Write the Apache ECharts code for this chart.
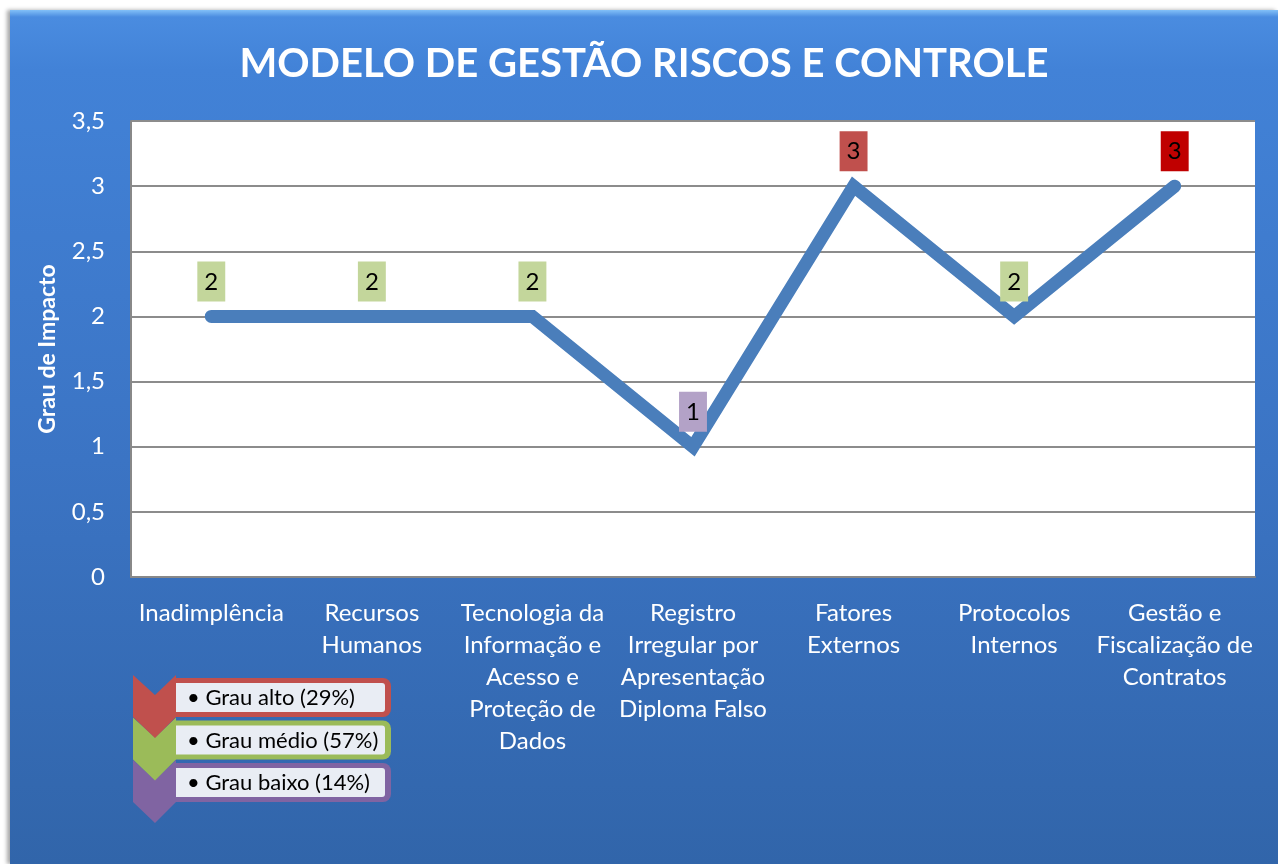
<!DOCTYPE html>
<html>
<head>
<meta charset="utf-8">
<script src="https://cdn.jsdelivr.net/npm/echarts@6/dist/echarts.min.js"></script>
<style>
  body { margin: 0; background: #fff; }
  #chart {
    position: absolute; left: 10px; top: 10px; width: 1268px; height: 854px;
    background: linear-gradient(to bottom, #82c0f8 0px, #4a8ce0 7px, #4282d7 60px, #3b74c4 450px, #3165aa 854px);
    box-shadow: -3px 0 4px rgba(0,0,0,0.35);
  }
</style>
</head>
<body>
<div id="chart"></div>
<script>
const categories = [
    'Inadimplência',
    'Recursos\nHumanos',
    'Tecnologia da\nInformação e\nAcesso e\nProteção de\nDados',
    'Registro\nIrregular por\nApresentação\nDiploma Falso',
    'Fatores\nExternos',
    'Protocolos\nInternos',
    'Gestão e\nFiscalização de\nContratos'
];
const impact = [2, 2, 2, 1, 3, 2, 3];
const legendItems = ['Grau alto (29%)', 'Grau médio (57%)', 'Grau baixo (14%)'];

// label box colours per point
const labelColors = ['#c3d69b', '#c3d69b', '#c3d69b', '#b3a2c7', '#c0504d', '#c3d69b', '#c00000'];
const legendColors = ['#c0504d', '#9bbb59', '#8064a2'];
const font = 'Lato, "Open Sans", sans-serif';

const myChart = echarts.init(document.getElementById('chart'));

// legend: chevrons + boxes (coords relative to the chart div)
const graphics = [];
legendItems.forEach((txt, i) => {
    const y0 = 665 + i * 42.5;
    const x1 = 166;
    graphics.push({
        type: 'rect', z: 10,
        shape: { x: x1 - 2, y: y0 + 3, width: 217, height: 39, r: [0, 8, 8, 0] },
        style: { fill: legendColors[i] }
    });
    graphics.push({
        type: 'rect', z: 11,
        shape: { x: x1, y: y0 + 8, width: 209, height: 29, r: [0, 3, 3, 0] },
        style: { fill: '#e9edf4' }
    });
    graphics.push({
        type: 'text', z: 12,
        style: {
            x: x1 + 11, y: y0 + 23, text: '• ' + txt, fill: '#000',
            font: '22px ' + font, verticalAlign: 'middle'
        }
    });
});
legendItems.forEach((txt, i) => {
    const y0 = 665 + i * 42.5;
    const x0 = 123, xm = 145, x1 = 166;
    graphics.push({
        type: 'polygon', z: 20 - i,
        shape: { points: [[x0, y0], [xm, y0 + 20], [x1, y0], [x1, y0 + 42], [xm, y0 + 63], [x0, y0 + 42]] },
        style: { fill: legendColors[i] }
    });
});

const option = {
    backgroundColor: 'transparent',
    title: {
        text: 'MODELO DE GESTÃO RISCOS E CONTROLE',
        left: 'center',
        top: 29,
        padding: [5, 5, 5, 25],
        textStyle: { color: '#fff', fontSize: 40, fontWeight: 'bold', fontFamily: font }
    },
    grid: {
        left: 121, right: 23, top: 111, bottom: 287,
        show: true, backgroundColor: '#fff', borderWidth: 0
    },
    xAxis: {
        type: 'category',
        data: categories,
        boundaryGap: true,
        axisLine: { show: true, lineStyle: { color: '#888', width: 2 } },
        axisTick: { show: false },
        axisLabel: {
            color: '#fff', fontSize: 24, lineHeight: 32, margin: 20,
            fontFamily: font, interval: 0
        }
    },
    yAxis: {
        type: 'value',
        min: 0, max: 3.5, interval: 0.5,
        name: 'Grau de Impacto',
        nameLocation: 'middle',
        nameGap: 72,
        nameTextStyle: { color: '#fff', fontSize: 23, fontWeight: 'bold', fontFamily: font },
        axisLine: { show: true, lineStyle: { color: '#888', width: 2 } },
        axisTick: { show: false },
        axisLabel: {
            color: '#fff', fontSize: 24, margin: 26, fontFamily: font,
            formatter: v => String(v).replace('.', ',')
        },
        splitLine: { lineStyle: { color: '#8c8c8c', width: 2 } }
    },
    series: [{
        type: 'line',
        data: impact.map((v, i) => ({
            value: v,
            label: { backgroundColor: labelColors[i] }
        })),
        symbol: 'circle',
        symbolSize: 2,
        showSymbol: true,
        itemStyle: { color: 'rgba(74,126,187,0)', borderWidth: 0 },
        lineStyle: { color: '#4a7ebb', width: 13, cap: 'round', join: 'miter' },
        label: {
            show: true, position: 'top', distance: 14,
            formatter: '{v|{c}}',
            padding: [7, 7, 6, 7],
            rich: {
                v: { color: '#000', fontSize: 24, lineHeight: 27, fontFamily: font }
            }
        },
        emphasis: { disabled: true },
        z: 3
    }],
    graphic: graphics
};

myChart.setOption(option);
</script>
</body>
</html>
